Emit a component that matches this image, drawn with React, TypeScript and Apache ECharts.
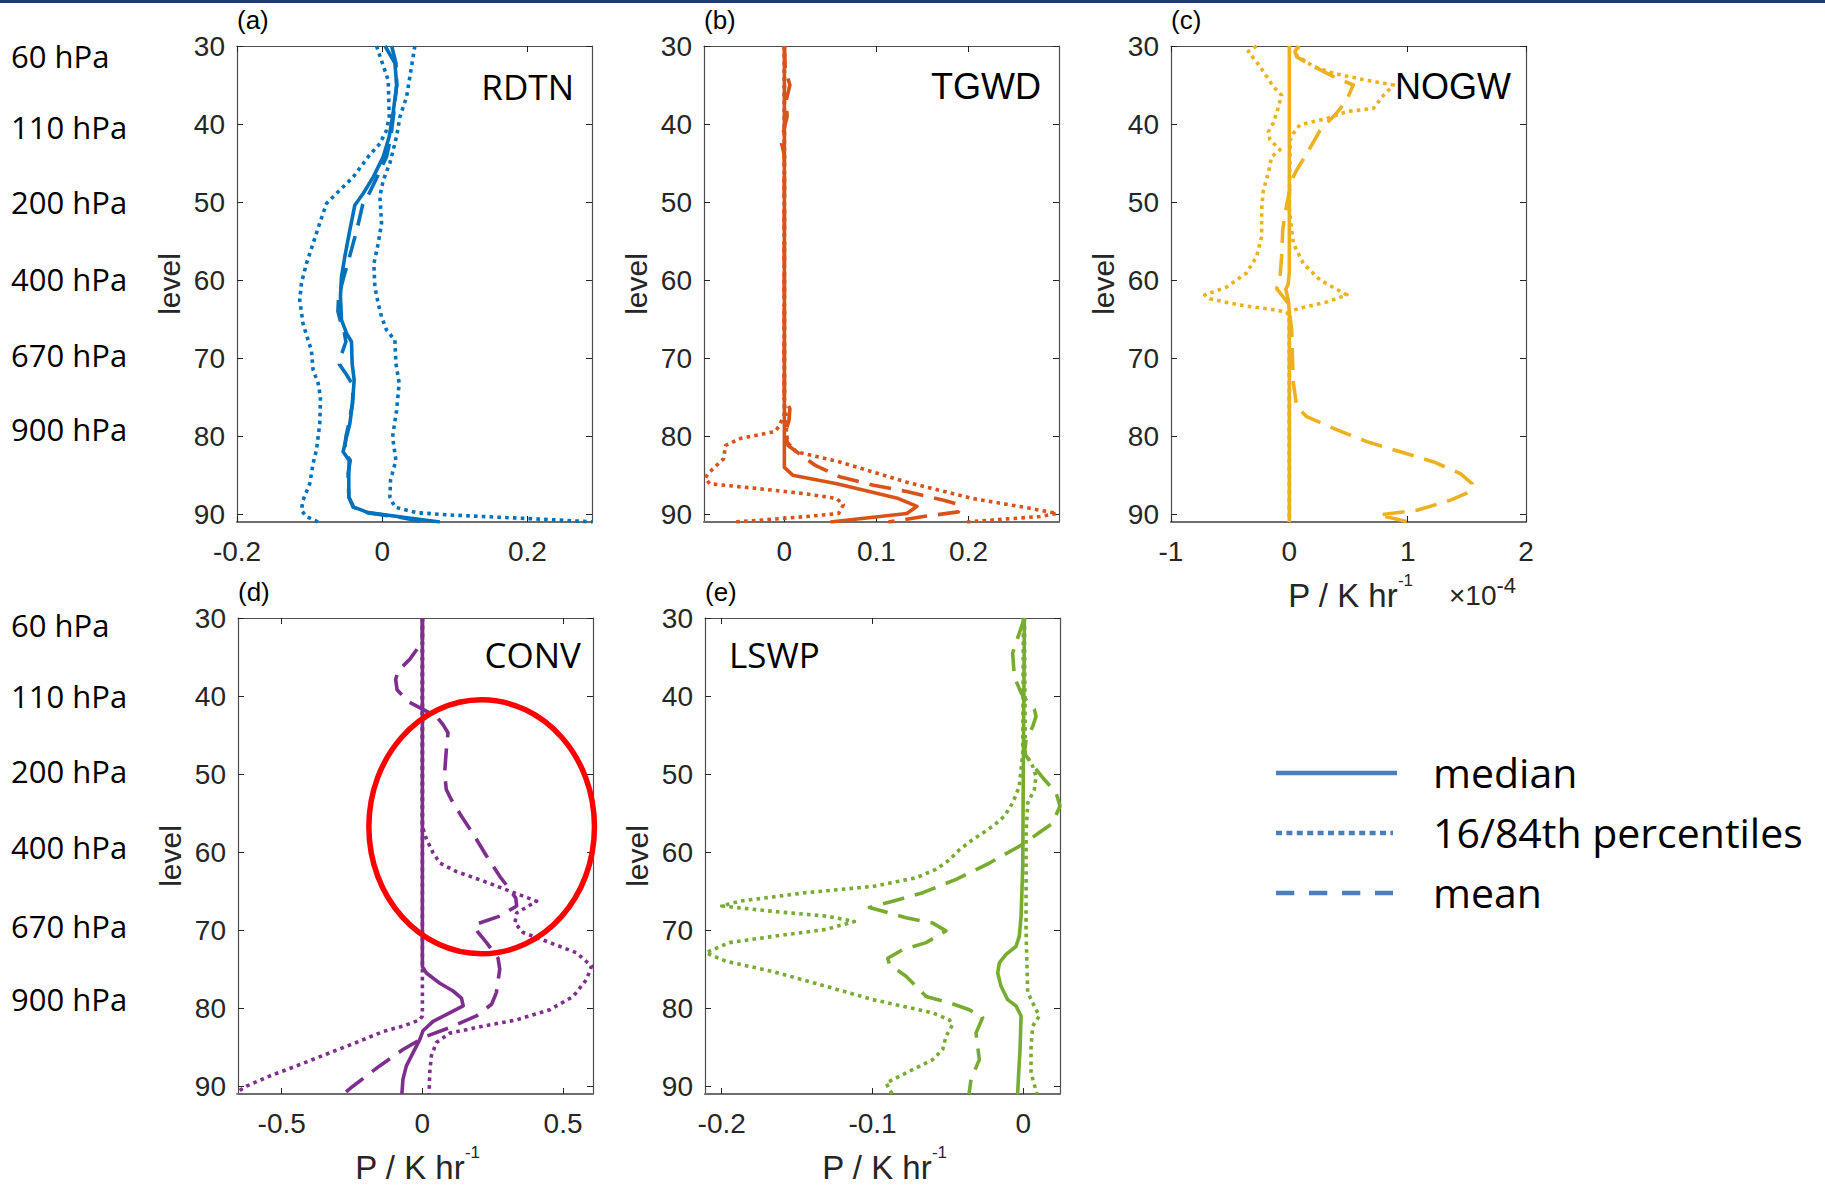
import React, { useEffect, useRef } from "react";
import * as echarts from "echarts";

// ---------------- data ----------------
const levelTicks = [30, 40, 50, 60, 70, 80, 90];
const pressureLabels = ["60 hPa", "110 hPa", "200 hPa", "400 hPa", "670 hPa", "900 hPa"];
const panelNames = ["RDTN", "TGWD", "NOGW", "CONV", "LSWP"];
const panelTags = ["(a)", "(b)", "(c)", "(d)", "(e)"];
const legendLabels = ["median", "16/84th percentiles", "mean"];

const rdtnXTicks = [-0.2, 0, 0.2];
const tgwdXTicks = [0, 0.1, 0.2];
const nogwXTicks = [-1, 0, 1, 2];
const convXTicks = [-0.5, 0, 0.5];
const lswpXTicks = [-0.2, -0.1, 0];

// (a) RDTN
const rdtnMedianLv = [30, 32.2, 35, 38.6, 41.6, 44.2, 46.8, 48.9, 50.4, 53.6, 57, 59.6, 62.1, 65.1, 66.8, 67.9, 70.7, 72.8, 75.8, 78.4, 80.1, 82, 83.1, 84.8, 87.8, 89.1, 89.8, 90.4, 91];
const rdtnMedianX = [0.004, 0.0175, 0.02, 0.015, 0.0097, 0.0014, -0.0124, -0.0262, -0.0377, -0.0446, -0.0515, -0.0561, -0.0575, -0.0561, -0.0492, -0.0423, -0.0414, -0.0386, -0.0409, -0.0446, -0.0492, -0.0538, -0.0455, -0.046, -0.046, -0.0391, -0.0193, 0.029, 0.0795];
const rdtnMeanLv = [30, 32.2, 35, 38.6, 41.6, 44.2, 46.8, 48.9, 50.4, 53.6, 57, 59.6, 62.1, 64, 65.1, 66.8, 67.9, 69.5, 70.8, 72, 73.5, 75.8, 78.4, 80.1, 82, 83.1, 84.8, 87.8, 89.1, 89.8, 90.4, 91];
const rdtnMeanX = [0.013, 0.019, 0.02, 0.016, 0.012, 0.006, -0.007, -0.018, -0.027, -0.035, -0.045, -0.053, -0.06, -0.061, -0.058, -0.052, -0.05, -0.056, -0.059, -0.05, -0.04, -0.041, -0.046, -0.05, -0.052, -0.044, -0.047, -0.046, -0.04, -0.021, 0.024, 0.058];
const rdtnP16Lv = [30, 34.4, 39.1, 40.8, 42.5, 44.2, 46.8, 48.9, 50.2, 52.7, 55.3, 57.9, 60.4, 62.6, 65.6, 67.7, 69, 71.5, 73.2, 75, 78.4, 81.8, 83.5, 86.1, 88.2, 89.5, 90.3, 91];
const rdtnP16X = [-0.0078, 0.0083, 0.0097, 0.006, -0.0032, -0.0193, -0.04, -0.063, -0.0768, -0.086, -0.0952, -0.1044, -0.1113, -0.1136, -0.109, -0.102, -0.0975, -0.0952, -0.0883, -0.085, -0.086, -0.0906, -0.0952, -0.0998, -0.109, -0.1113, -0.1044, -0.0883];
const rdtnP84Lv = [30, 32.6, 36.5, 39.1, 41.6, 45, 47.2, 49.3, 52.7, 55.3, 57.9, 60.9, 63, 64.7, 66.4, 67.7, 70.7, 73.2, 76.7, 80.1, 83.1, 85.6, 87.8, 89.1, 89.8, 90.1, 90.3, 90.55, 90.8, 91];
const rdtnP84X = [0.045, 0.0405, 0.0336, 0.0244, 0.0198, 0.0106, 0.0014, -0.0032, -0.0009, -0.0055, -0.0115, -0.0101, -0.0055, -0.0009, 0.006, 0.0175, 0.0189, 0.0234, 0.0198, 0.0143, 0.0189, 0.0115, 0.0106, 0.0175, 0.0474, 0.0933, 0.139, 0.199, 0.254, 0.29];

// (b) TGWD
const tgwdMedianLv = [30, 84, 85, 86.1, 88, 89, 89.9, 91];
const tgwdMedianX = [0, 0, 0.009, 0.057, 0.124, 0.144, 0.133, 0.05];
const tgwdMeanLv = [30, 33, 35, 37, 39, 41, 42.5, 44, 75, 76.5, 78, 79.5, 81.2, 83.7, 85.2, 86.3, 87.1, 88.2, 88.8, 89.7, 90.3, 90.8, 91];
const tgwdMeanX = [0, 0.001, 0.006, 0.002, 0.003, -0.001, -0.003, 0, 0, 0.006, 0.005, 0.001, 0.004, 0.033, 0.06, 0.097, 0.133, 0.173, 0.191, 0.189, 0.151, 0.125, 0.113];
const tgwdP16Lv = [30, 77.1, 78.6, 79.4, 80.3, 81.2, 82.9, 84.8, 85.4, 86.1, 86.7, 87.4, 88, 88.8, 89.9, 90.3, 90.7, 91];
const tgwdP16X = [0, 0, -0.005, -0.01, -0.048, -0.064, -0.066, -0.083, -0.086, -0.081, -0.03, 0.024, 0.057, 0.064, 0.059, 0.024, -0.019, -0.054];
const tgwdP84Lv = [30, 76, 78, 79.5, 80.9, 82, 83.3, 85.9, 88, 89.1, 89.9, 90.3, 90.6, 91];
const tgwdP84X = [0, 0, 0.003, 0.002, 0.004, 0.013, 0.06, 0.133, 0.205, 0.26, 0.296, 0.278, 0.242, 0.198];

// (c) NOGW  (units of 1e-4 K/hr)
const nogwMedianLv = [30, 59, 60.5, 61.2, 62.5, 64, 91];
const nogwMedianX = [0, 0, -0.01, -0.03, -0.01, 0, 0];
const nogwMeanLv = [30, 30.7, 31.4, 32.6, 33.9, 35, 36.9, 38.6, 40.8, 43.8, 45.9, 47.2, 49.3, 51.5, 53.6, 57, 59.6, 61.1, 63, 66.4, 70.7, 73.2, 76.2, 77.5, 79, 80.7, 82, 83.3, 84.8, 86.1, 87.1, 88.2, 89.5, 90.1, 91];
const nogwMeanX = [0.076, 0.048, 0.062, 0.2, 0.37, 0.54, 0.486, 0.4, 0.26, 0.147, 0.062, 0.02, -0.008, -0.037, -0.056, -0.065, -0.079, -0.107, -0.008, 0.02, 0.028, 0.034, 0.062, 0.147, 0.373, 0.655, 0.938, 1.22, 1.446, 1.545, 1.531, 1.362, 1.079, 0.754, 1.008];
const nogwP16Lv = [30, 30.7, 32.6, 35.2, 36.3, 38.6, 39.9, 41, 42, 43.3, 44.2, 46.3, 48.5, 51, 54.4, 57, 59.1, 60.9, 61.9, 62.4, 63.2, 63.8, 64.1, 64.7, 91];
const nogwP16X = [-0.277, -0.347, -0.249, -0.136, -0.065, -0.107, -0.136, -0.178, -0.164, -0.079, -0.15, -0.178, -0.22, -0.234, -0.234, -0.277, -0.362, -0.531, -0.715, -0.672, -0.418, -0.136, -0.023, 0, 0];
const nogwP84Lv = [30, 31.2, 32.6, 33.5, 34.4, 35, 36.3, 38, 38.4, 39.3, 40.1, 41.2, 42.1, 51, 55.3, 57.9, 60, 61.9, 62.8, 63.6, 64, 91];
const nogwP84X = [0.076, 0.062, 0.2, 0.373, 0.655, 0.88, 0.797, 0.71, 0.486, 0.316, 0.09, 0.034, 0.006, 0, 0.034, 0.119, 0.26, 0.486, 0.316, 0.09, 0, 0];

// (d) CONV
const convMedianLv = [30, 74.7, 75.5, 76.8, 77.8, 78.7, 79.7, 80.6, 81.7, 82.9, 84, 85.7, 87.4, 89.1, 91];
const convMedianX = [0, 0, 0.014, 0.062, 0.109, 0.139, 0.145, 0.097, 0.038, 0.002, -0.009, -0.033, -0.057, -0.069, -0.073];
const convMeanLv = [30, 33, 33.8, 35.3, 36.8, 37.9, 39.2, 40.7, 41.7, 42.6, 43.7, 44.7, 46.9, 49.9, 52, 53.3, 55.4, 58, 60.5, 63.1, 64.8, 65.9, 66.9, 68.2, 69.3, 70.3, 71.6, 73.6, 75, 78, 79.5, 81, 82.5, 83.6, 85.3, 87.4, 90, 91];
const convMeanX = [0, 0, -0.015, -0.045, -0.087, -0.095, -0.09, -0.051, 0.002, 0.05, 0.074, 0.091, 0.085, 0.079, 0.085, 0.103, 0.139, 0.186, 0.228, 0.275, 0.311, 0.332, 0.335, 0.275, 0.186, 0.198, 0.228, 0.269, 0.275, 0.263, 0.246, 0.192, 0.097, 0.014, -0.069, -0.152, -0.247, -0.28];
const convP16Lv = [30, 81, 81.5, 82.3, 83, 84.4, 85.9, 87.4, 88.7, 90, 90.7, 91];
const convP16X = [0, 0, -0.009, -0.069, -0.14, -0.235, -0.342, -0.448, -0.543, -0.626, -0.656, -0.67];
const convP84Lv = [30, 56.7, 58.3, 60.1, 61.4, 62.5, 63.7, 65, 66.3, 67.8, 69.1, 70.3, 71.6, 72.9, 74.6, 76.3, 78.5, 80.2, 81.5, 82.3, 83.2, 84.4, 86.1, 88.3, 91];
const convP84X = [0, 0, 0.014, 0.038, 0.062, 0.121, 0.216, 0.311, 0.406, 0.335, 0.329, 0.358, 0.453, 0.548, 0.601, 0.584, 0.536, 0.453, 0.335, 0.216, 0.097, 0.05, 0.032, 0.026, 0.024];

// (e) LSWP
const lswpMedianLv = [30, 49, 61.8, 68.2, 70.8, 72.1, 73.1, 74.2, 75.5, 77.2, 78.9, 79.7, 81, 85.3, 88.3, 91];
const lswpMedianX = [0.0007, 0, -0.0004, -0.0015, -0.0027, -0.0049, -0.0115, -0.0159, -0.017, -0.0148, -0.0104, -0.0049, -0.0015, -0.0022, -0.0031, -0.0038];
const lswpMeanLv = [30, 33.2, 34.5, 37.5, 39.6, 40.5, 41.7, 42.6, 43.9, 45.6, 47.3, 48.6, 50.7, 52.4, 54.1, 56.3, 57.5, 59, 61.4, 63.5, 65.2, 66.3, 67.1, 68.4, 69.1, 70.1, 71.6, 72.5, 73.6, 74.4, 75.9, 78.5, 79.3, 80.2, 81.2, 83.2, 84.9, 86.6, 89.1, 91];
const lswpMeanX = [0.0007, -0.0049, -0.0071, -0.006, -0.0015, 0.0018, 0.0073, 0.0084, 0.0062, 0.0018, 0.0007, 0.0051, 0.0139, 0.0217, 0.0243, 0.0194, 0.0106, -0.0004, -0.0225, -0.0446, -0.0667, -0.0866, -0.1021, -0.0778, -0.06, -0.0513, -0.0645, -0.08, -0.0899, -0.0888, -0.0778, -0.0645, -0.0491, -0.0358, -0.027, -0.0314, -0.0303, -0.0292, -0.0347, -0.036];
const lswpP16Lv = [30, 47.3, 51.6, 53.7, 55.4, 56.7, 58.4, 59.7, 61, 62.2, 63.3, 64.4, 65.2, 66.3, 66.9, 67.6, 68.2, 68.9, 69.9, 70.8, 71.6, 72.9, 74, 75.3, 77.2, 78.9, 80.6, 81.5, 82.1, 83.6, 85.3, 86.6, 88.3, 89.6, 91];
const lswpP16X = [0, -0.0004, -0.0027, -0.0071, -0.0126, -0.0203, -0.0336, -0.0424, -0.0491, -0.0579, -0.0712, -0.0999, -0.1441, -0.1883, -0.2, -0.166, -0.1308, -0.112, -0.1308, -0.166, -0.195, -0.2105, -0.1971, -0.1662, -0.1308, -0.0999, -0.0601, -0.0491, -0.0469, -0.0513, -0.0535, -0.0601, -0.0778, -0.091, -0.087];
const lswpP84Lv = [30, 47.3, 49, 50.3, 52, 53.7, 57.5, 70.3, 78, 79.3, 81, 82.3, 84.9, 88.3, 91];
const lswpP84X = [0.0007, 0.0013, 0.0062, 0.0084, 0.0073, 0.0029, 0.0018, 0.0018, 0.0029, 0.0062, 0.0106, 0.0062, 0.0051, 0.0051, 0.009];

// highlighted region in CONV panel (data units: value, level)
const ellipseCenter = [0.2107, 56.76];
const ellipseRadius = [0.401, 16.27];

// ---------------- layout / style ----------------
const FONT_AX = "Liberation Sans";
const FONT_CAL = "Open Sans";
const GRID_W = 355;
const GRID_H = 476;

type Panel = {
  left: number; top: number; xMin: number; xMax: number; xTicks: number[]; color: string;
  nameX: number; nameY: number; nameAlign: "left" | "right"; nameFont: string; nameSize: number;
  median: [number[], number[]]; mean: [number[], number[]]; p16: [number[], number[]]; p84: [number[], number[]];
};

const panels: Panel[] = [
  { left: 237, top: 46, xMin: -0.2, xMax: 0.289, xTicks: rdtnXTicks, color: "#0072BD",
    nameX: 574, nameY: 86, nameAlign: "right", nameFont: FONT_CAL, nameSize: 35,
    median: [rdtnMedianX, rdtnMedianLv], mean: [rdtnMeanX, rdtnMeanLv], p16: [rdtnP16X, rdtnP16Lv], p84: [rdtnP84X, rdtnP84Lv] },
  { left: 704, top: 46, xMin: -0.0873, xMax: 0.2983, xTicks: tgwdXTicks, color: "#D95319",
    nameX: 1041, nameY: 86, nameAlign: "right", nameFont: FONT_AX, nameSize: 36,
    median: [tgwdMedianX, tgwdMedianLv], mean: [tgwdMeanX, tgwdMeanLv], p16: [tgwdP16X, tgwdP16Lv], p84: [tgwdP84X, tgwdP84Lv] },
  { left: 1171, top: 46, xMin: -1, xMax: 2, xTicks: nogwXTicks, color: "#EDB120",
    nameX: 1511, nameY: 86, nameAlign: "right", nameFont: FONT_AX, nameSize: 36,
    median: [nogwMedianX, nogwMedianLv], mean: [nogwMeanX, nogwMeanLv], p16: [nogwP16X, nogwP16Lv], p84: [nogwP84X, nogwP84Lv] },
  { left: 238, top: 618, xMin: -0.6555, xMax: 0.6065, xTicks: convXTicks, color: "#7E2F8E",
    nameX: 581, nameY: 654, nameAlign: "right", nameFont: FONT_CAL, nameSize: 35,
    median: [convMedianX, convMedianLv], mean: [convMeanX, convMeanLv], p16: [convP16X, convP16Lv], p84: [convP84X, convP84Lv] },
  { left: 705, top: 618, xMin: -0.2111, xMax: 0.0243, xTicks: lswpXTicks, color: "#77AC30",
    nameX: 729, nameY: 654, nameAlign: "left", nameFont: FONT_CAL, nameSize: 35,
    median: [lswpMedianX, lswpMedianLv], mean: [lswpMeanX, lswpMeanLv], p16: [lswpP16X, lswpP16Lv], p84: [lswpP84X, lswpP84Lv] },
];

const pressureYTop = [55.5, 127, 201.5, 279.3, 355.1, 428.8];
const pressureYBottom = [625.2, 696.4, 771.3, 847.3, 925.9, 998.6];

const fmt = (v: number) => String(Math.round(v * 1000) / 1000);
const pairs = (xs: number[], lvs: number[]) => xs.map((x, i) => [x, lvs[i]]);

const LW = 3.6;
const DOT = [3.6, 4.2];
const DASH = [22, 11];

function buildOption() {
  const grid: any[] = [];
  const xAxis: any[] = [];
  const yAxis: any[] = [];
  const series: any[] = [];
  const boxLine = { color: "#4d4d4d", width: 1.2 };
  const tickStyle = { color: "#262626", width: 1 };

  panels.forEach((p, i) => {
    grid.push({ left: p.left, top: p.top, width: GRID_W, height: GRID_H, containLabel: false });
    xAxis.push({
      gridIndex: i, type: "value", position: "bottom", min: p.xMin, max: p.xMax,
      axisLine: { show: true, onZero: false, lineStyle: { color: "#6e6e6e", width: 2.2 } },
      axisTick: { show: true, inside: true, length: 6, customValues: p.xTicks, lineStyle: tickStyle },
      axisLabel: { show: true, customValues: p.xTicks, formatter: fmt, margin: 15, color: "#262626", fontSize: 28, fontFamily: FONT_AX },
      splitLine: { show: false },
    });
    xAxis.push({
      gridIndex: i, type: "value", position: "top", min: p.xMin, max: p.xMax,
      axisLine: { show: true, onZero: false, lineStyle: boxLine },
      axisTick: { show: true, inside: true, length: 6, customValues: p.xTicks, lineStyle: tickStyle },
      axisLabel: { show: false },
      splitLine: { show: false },
    });
    yAxis.push({
      gridIndex: i, type: "value", position: "left", inverse: true, min: 30, max: 91,
      axisLine: { show: true, onZero: false, lineStyle: boxLine },
      axisTick: { show: true, inside: true, length: 6, customValues: levelTicks, lineStyle: tickStyle },
      axisLabel: { show: true, customValues: levelTicks, formatter: fmt, margin: 12, color: "#262626", fontSize: 28, fontFamily: FONT_AX },
      splitLine: { show: false },
    });
    yAxis.push({
      gridIndex: i, type: "value", position: "right", inverse: true, min: 30, max: 91,
      axisLine: { show: true, onZero: false, lineStyle: boxLine },
      axisTick: { show: true, inside: true, length: 6, customValues: levelTicks, lineStyle: tickStyle },
      axisLabel: { show: false },
      splitLine: { show: false },
    });
    const mk = (name: string, d: [number[], number[]], type: any, z: number) => ({
      type: "line", name, xAxisIndex: 2 * i, yAxisIndex: 2 * i,
      data: pairs(d[0], d[1]), showSymbol: false, symbol: "none", silent: true, z,
      lineStyle: { color: p.color, width: LW, type, cap: "butt", join: "round" },
    });
    series.push(mk("p16", p.p16, DOT, 2));
    series.push(mk("p84", p.p84, DOT, 2));
    series.push(mk("mean", p.mean, DASH, 3));
    series.push(mk("median", p.median, "solid", 4));
  });

  return { animation: false, backgroundColor: "#ffffff", grid, xAxis, yAxis, series };
}

function buildGraphics(chart: any) {
  const els: any[] = [];
  // top navy rule
  els.push({ type: "rect", shape: { x: 0, y: 0, width: 1825, height: 3 }, style: { fill: "#1f3b70" } });

  panels.forEach((p, i) => {
    els.push({ type: "text", x: p.left, y: p.top - 26, style: { text: panelTags[i], fontSize: 26, fontFamily: FONT_AX, fill: "#000", align: "left", verticalAlign: "middle" } });
    els.push({ type: "text", x: p.nameX, y: p.nameY, z: 50, style: { text: panelNames[i], fontSize: p.nameSize, fontFamily: p.nameFont, fill: "#000", align: p.nameAlign, verticalAlign: "middle" } });
    els.push({ type: "text", x: p.left - 68, y: p.top + GRID_H / 2, rotation: Math.PI / 2, style: { text: "level", fontSize: 30, fontFamily: FONT_AX, fill: "#262626", align: "center", verticalAlign: "middle" } });
  });

  const unitRich = {
    m: { fontSize: 33, fontFamily: FONT_AX, fill: "#262626", color: "#262626", lineHeight: 46 },
    s: { fontSize: 17, fontFamily: FONT_AX, fill: "#262626", color: "#262626", verticalAlign: "top", lineHeight: 20 },
  };
  [2, 3, 4].forEach((i) => {
    const p = panels[i];
    const y = p.top + GRID_H + 73;
    els.push({ type: "text", x: p.left + GRID_W / 2 + 2, y, style: { text: "{m|P / K hr}{s|-1}", rich: unitRich, align: "center", verticalAlign: "middle" } });
  });
  els.push({ type: "text", x: 1449, y: 595, style: {
    text: "{m|\u00d710}{s|-4}", align: "left", verticalAlign: "middle",
    rich: {
      m: { fontSize: 28, fontFamily: FONT_AX, fill: "#262626", color: "#262626", lineHeight: 42 },
      s: { fontSize: 22, fontFamily: FONT_AX, fill: "#262626", color: "#262626", verticalAlign: "top", lineHeight: 22 },
    } } });

  pressureLabels.forEach((t, k) => {
    els.push({ type: "text", x: 11, y: pressureYTop[k], style: { text: t, fontSize: 31, fontFamily: FONT_CAL, fill: "#000", align: "left", verticalAlign: "middle" } });
    els.push({ type: "text", x: 11, y: pressureYBottom[k], style: { text: t, fontSize: 31, fontFamily: FONT_CAL, fill: "#000", align: "left", verticalAlign: "middle" } });
  });

  // legend
  const legY = [773, 833, 893];
  const legDash: any[] = [null, [6, 4.4], [18.3, 14.7]];
  legendLabels.forEach((t, k) => {
    els.push({ type: "line", shape: { x1: 1276, y1: legY[k], x2: k === 0 ? 1397 : 1393, y2: legY[k] },
      style: { stroke: "#4a7ebb", lineWidth: 4.6, lineDash: legDash[k], lineCap: "butt" } });
    els.push({ type: "text", x: 1433, y: legY[k] - 1, style: { text: t, fontSize: 41, fontFamily: FONT_CAL, fill: "#000", align: "left", verticalAlign: "middle" } });
  });

  // highlight ellipse in CONV panel
  const finder = { xAxisIndex: 6, yAxisIndex: 6 };
  const c = chart.convertToPixel(finder, ellipseCenter);
  const e = chart.convertToPixel(finder, [ellipseCenter[0] + ellipseRadius[0], ellipseCenter[1] + ellipseRadius[1]]);
  if (c && e) {
    els.push({ type: "ellipse", z: 60, shape: { cx: c[0], cy: c[1], rx: Math.abs(e[0] - c[0]), ry: Math.abs(e[1] - c[1]) },
      style: { fill: "none", stroke: "#ff0000", lineWidth: 5.5 } });
  }
  return els;
}

export default function App() {
  const ref = useRef<HTMLDivElement>(null);
  useEffect(() => {
    document.body.style.margin = "0";
    const chart = echarts.init(ref.current as HTMLDivElement, null, { renderer: "svg" });
    chart.setOption(buildOption() as any);
    chart.setOption({ graphic: { elements: buildGraphics(chart) } } as any);
    return () => chart.dispose();
  }, []);
  return <div ref={ref} style={{ position: "absolute", left: 0, top: 0, width: 1825, height: 1191, background: "#fff" }} />;
}
